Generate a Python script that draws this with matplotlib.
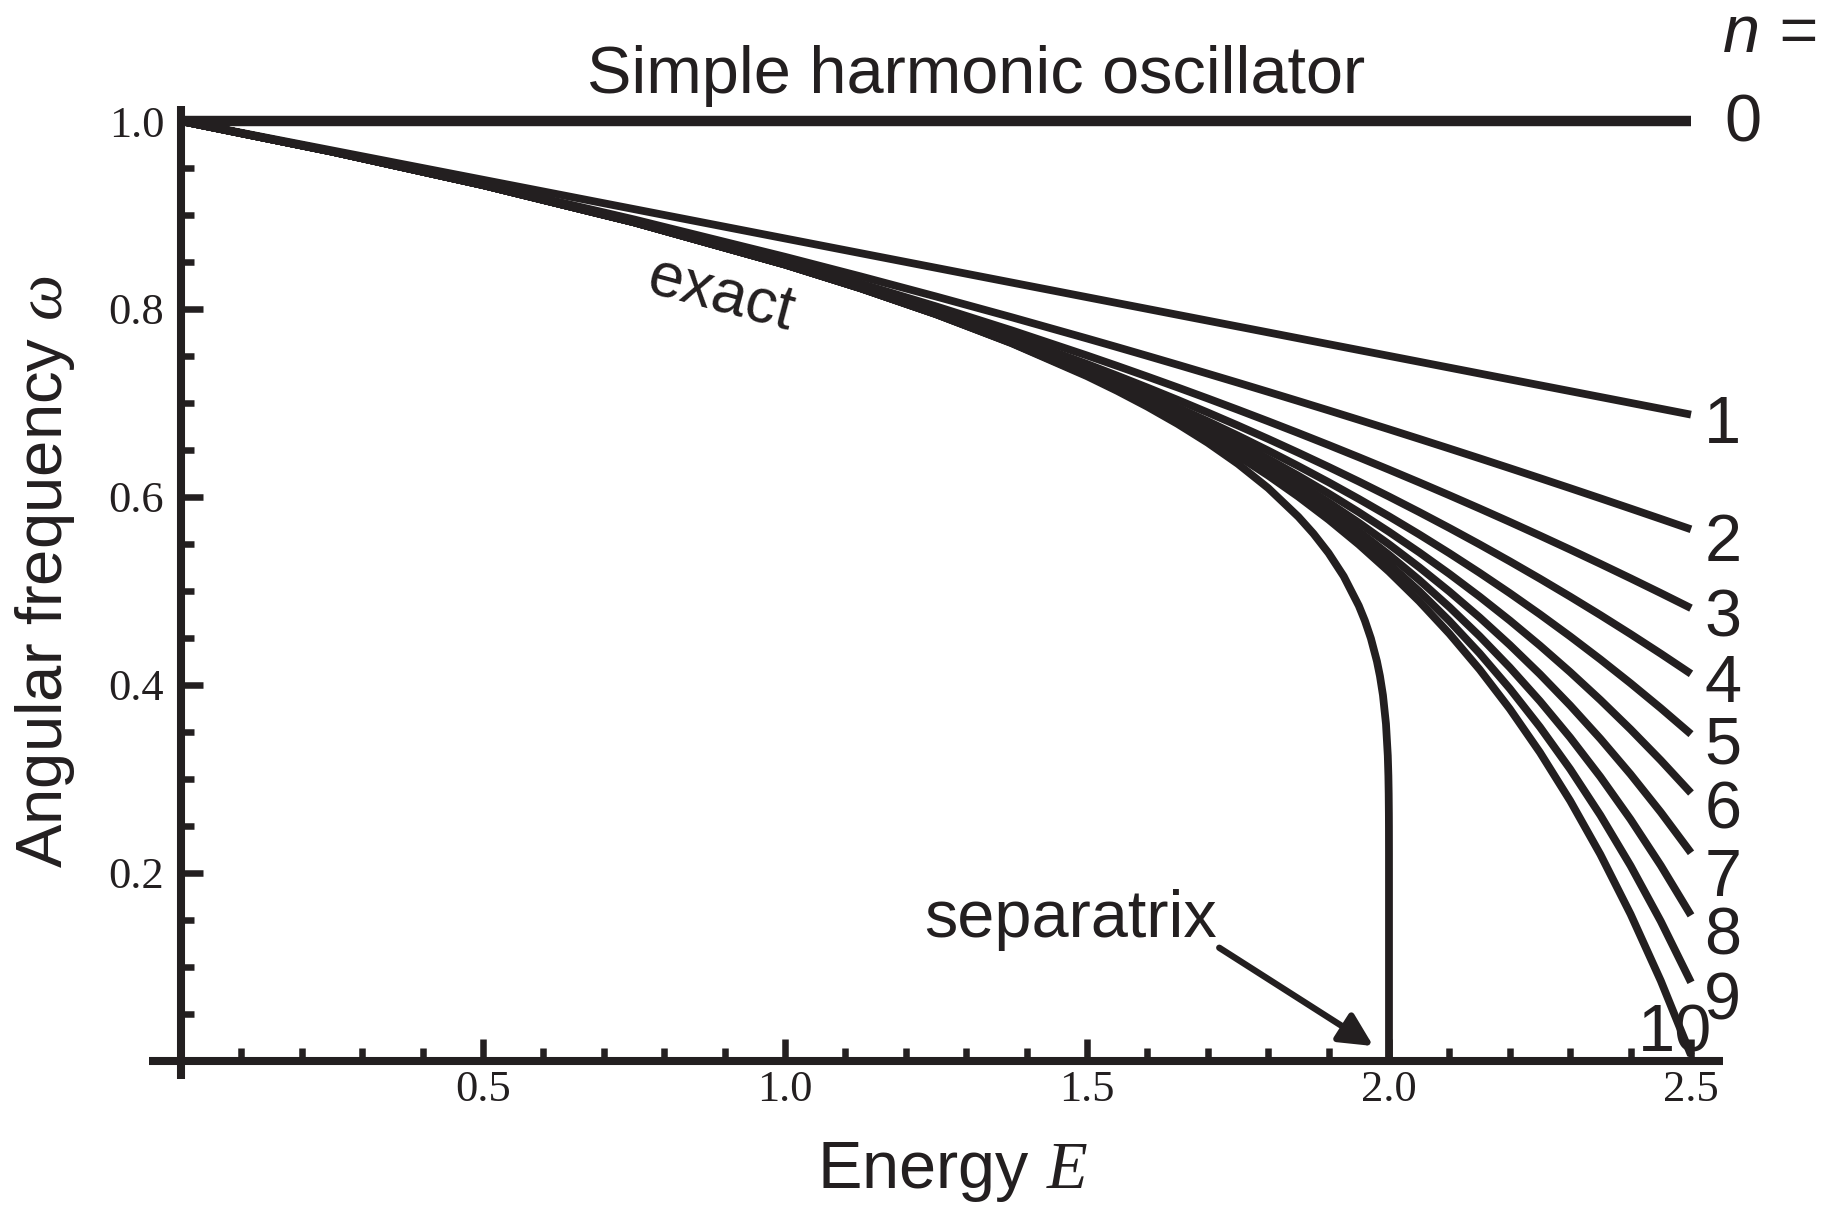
import matplotlib
matplotlib.use('Agg')
import matplotlib.pyplot as plt
from matplotlib.ticker import FixedLocator

plt.rcParams['font.family'] = ['Liberation Sans', 'DejaVu Sans']
plt.rcParams['mathtext.fontset'] = 'custom'
plt.rcParams['mathtext.it'] = 'Liberation Serif:italic'
plt.rcParams['mathtext.rm'] = 'Liberation Serif'

# ---------------- data ----------------
E_exact = [0, 0.25, 0.5, 0.75, 1.0, 1.125, 1.25, 1.375, 1.5, 1.55, 1.6, 1.65,
           1.7, 1.75, 1.8, 1.85, 1.875, 1.9, 1.925, 1.95, 1.96, 1.97, 1.98,
           1.985, 1.99, 1.995, 1.998, 1.999, 1.9995, 1.9998, 1.9999, 1.99998,
           1.999998, 2.0]
omega_exact = [1.0, 0.96744, 0.93181, 0.89221, 0.84721, 0.82198, 0.79432,
               0.76351, 0.72840, 0.71274, 0.69590, 0.67762, 0.65751, 0.63503,
               0.60929, 0.57873, 0.56076, 0.54010, 0.51546, 0.48409, 0.46832,
               0.44937, 0.42504, 0.40927, 0.38888, 0.35829, 0.32454, 0.30282,
               0.28388, 0.26217, 0.24784, 0.21991, 0.18939, 0.0]

E_series = [0, 0.25, 0.5, 0.75, 1.0, 1.125, 1.25, 1.375, 1.5, 1.55, 1.6, 1.65,
            1.7, 1.75, 1.8, 1.85, 1.9, 1.95, 2.0, 2.05, 2.1, 2.15, 2.2, 2.25,
            2.3, 2.35, 2.4, 2.45, 2.5]
omega_n0 = [1.0] * 29
omega_n1 = [1, 0.96875, 0.9375, 0.90625, 0.875, 0.859375, 0.84375, 0.828125,
            0.8125, 0.80625, 0.8, 0.79375, 0.7875, 0.78125, 0.775, 0.76875,
            0.7625, 0.75625, 0.75, 0.74375, 0.7375, 0.73125, 0.725, 0.71875,
            0.7125, 0.70625, 0.7, 0.69375, 0.6875]
omega_n2 = [1, 0.96753, 0.93262, 0.89526, 0.85547, 0.83466, 0.81323, 0.79120,
            0.76855, 0.75933, 0.75, 0.74058, 0.73106, 0.72144, 0.71172,
            0.70190, 0.69199, 0.68198, 0.67188, 0.66167, 0.65137, 0.64097,
            0.63047, 0.61987, 0.60918, 0.59839, 0.5875, 0.57651, 0.56543]
omega_n3 = [1, 0.96745, 0.93195, 0.89300, 0.85010, 0.82701, 0.80274, 0.77724,
            0.75043, 0.73933, 0.72800, 0.71645, 0.70467, 0.69265, 0.68039,
            0.66790, 0.65515, 0.64216, 0.62891, 0.61540, 0.60163, 0.58759,
            0.57328, 0.55869, 0.54383, 0.52868, 0.51325, 0.49753, 0.48151]
omega_n4 = [1, 0.96744, 0.93183, 0.89243, 0.84831, 0.82414, 0.79838, 0.77084,
            0.74137, 0.72900, 0.71628, 0.70319, 0.68972, 0.67587, 0.66161,
            0.64694, 0.63184, 0.61629, 0.60028, 0.58380, 0.56683, 0.54936,
            0.53137, 0.51284, 0.49376, 0.47412, 0.45389, 0.43307, 0.41162]
omega_n5 = [1, 0.96744, 0.93181, 0.89228, 0.84765, 0.82296, 0.79637, 0.76761,
            0.73638, 0.72312, 0.70938, 0.69515, 0.68039, 0.66508, 0.64919,
            0.63269, 0.61556, 0.59775, 0.57924, 0.55999, 0.53998, 0.51915,
            0.49748, 0.47492, 0.45144, 0.42699, 0.40153, 0.37502, 0.34741]
omega_n6 = [1, 0.96744, 0.93181, 0.89223, 0.84739, 0.82244, 0.79539, 0.76588,
            0.73345, 0.71956, 0.70507, 0.68997, 0.67419, 0.65771, 0.64046,
            0.62240, 0.60348, 0.58364, 0.56281, 0.54095, 0.51797, 0.49380,
            0.46838, 0.44163, 0.41345, 0.38377, 0.35249, 0.31952, 0.28475]
omega_n7 = [1, 0.96744, 0.93181, 0.89222, 0.84729, 0.82220, 0.79489, 0.76491,
            0.73167, 0.71731, 0.70227, 0.68649, 0.66991, 0.65246, 0.63407,
            0.61467, 0.59416, 0.57246, 0.54946, 0.52508, 0.49918, 0.47165,
            0.44236, 0.41118, 0.37793, 0.34248, 0.30465, 0.26425, 0.22109]
omega_n8 = [1, 0.96744, 0.93181, 0.89221, 0.84725, 0.82209, 0.79463, 0.76435,
            0.73055, 0.71586, 0.70040, 0.68410, 0.66687, 0.64862, 0.62926,
            0.60868, 0.58675, 0.56333, 0.53829, 0.51146, 0.48267, 0.45172,
            0.41841, 0.38250, 0.34375, 0.30188, 0.25660, 0.20758, 0.15448]
omega_n9 = [1, 0.96744, 0.93181, 0.89221, 0.84723, 0.82203, 0.79449, 0.76402,
            0.72983, 0.71490, 0.69912, 0.68240, 0.66465, 0.64575, 0.62556,
            0.60394, 0.58072, 0.55572, 0.52873, 0.49952, 0.46784, 0.43339,
            0.39587, 0.35490, 0.31011, 0.26107, 0.20727, 0.14819, 0.08324]
omega_n10 = [1, 0.96744, 0.93181, 0.89221, 0.84722, 0.82201, 0.79442, 0.76382,
             0.72936, 0.71425, 0.69822, 0.68119, 0.66302, 0.64356, 0.62266,
             0.60012, 0.57574, 0.54926, 0.52041, 0.48887, 0.45428, 0.41624,
             0.37428, 0.32788, 0.27645, 0.21932, 0.15574, 0.08486, 0.00574]
series_orders = ['0', '1', '2', '3', '4', '5', '6', '7', '8', '9', '10']

x_major = [0.5, 1.0, 1.5, 2.0, 2.5]
x_major_labels = ['0.5', '1.0', '1.5', '2.0', '2.5']
y_major = [0.2, 0.4, 0.6, 0.8, 1.0]
y_major_labels = ['0.2', '0.4', '0.6', '0.8', '1.0']

# ---------------- layout / style ----------------
ink = '#231f20'
W, H = 1823, 1205
fig = plt.figure(figsize=(W / 100, H / 100), dpi=100)
ax = fig.add_axes([149 / W, 1 - 1079.3 / H, 1574 / W, 973.3 / H])
ax.set_xlim(-0.053, 2.553)
ax.set_ylim(-0.02, 1.016)

for s in ['top', 'right']:
    ax.spines[s].set_visible(False)
for s in ['left', 'bottom']:
    ax.spines[s].set_position(('data', 0))
    ax.spines[s].set_linewidth(5.8)
    ax.spines[s].set_color(ink)
    ax.spines[s].set_capstyle('butt')

ax.xaxis.set_major_locator(FixedLocator(x_major))
ax.xaxis.set_minor_locator(FixedLocator([0.1 * i for i in range(1, 25) if i % 5]))
ax.yaxis.set_major_locator(FixedLocator(y_major))
ax.yaxis.set_minor_locator(FixedLocator([0.05 * i for i in range(1, 20) if i % 4]))
ax.set_xticklabels(x_major_labels)
ax.set_yticklabels(y_major_labels)
ax.tick_params(which='both', direction='in', color=ink, width=4.7)
ax.tick_params(which='major', length=15.5)
ax.tick_params(which='minor', length=9.5)
ax.tick_params(axis='x', which='major', pad=7, labelsize=32, labelcolor=ink)
ax.tick_params(axis='y', which='major', pad=12, labelsize=32, labelcolor=ink)
for lbl in ax.get_xticklabels() + ax.get_yticklabels():
    lbl.set_fontfamily('Liberation Serif')

# curves
series = [omega_n0, omega_n1, omega_n2, omega_n3, omega_n4, omega_n5,
          omega_n6, omega_n7, omega_n8, omega_n9, omega_n10]
for i, om in enumerate(series):
    ax.plot(E_series, om, color=ink, lw=7.5 if i == 0 else 5.6,
            solid_capstyle='butt', solid_joinstyle='round', clip_on=False)
ax.plot(E_exact, omega_exact, color=ink, lw=5.6, solid_capstyle='butt',
        solid_joinstyle='round', clip_on=False)

# order labels at right
label_pos = [(2.556, 0.9777), (2.522, 0.6573), (2.522, 0.5319),
             (2.522, 0.4516), (2.522, 0.3821), (2.522, 0.3161),
             (2.522, 0.2473), (2.522, 0.1749), (2.522, 0.1131),
             (2.522, 0.0439), (2.412, 0.0099)]
for txt, (lx, ly) in zip(series_orders, label_pos):
    ax.text(lx, ly, txt, fontsize=48, color=ink, ha='left', va='baseline',
            clip_on=False)

fig.text(1723 / W, 1 - 52 / H, 'n =', fontsize=48, fontstyle='italic',
         color=ink, ha='left', va='baseline')

# annotations
ax.text(0.894, 0.8144, 'exact', fontsize=45, color=ink, rotation=-15,
        rotation_mode='anchor', ha='center', va='center')
ax.text(1.4735, 0.1315, 'separatrix', fontsize=48, color=ink, ha='center',
        va='baseline')
ax.annotate('', xy=(1.974, 0.0154), xytext=(1.719, 0.120),
            arrowprops=dict(arrowstyle='-|>,head_length=0.5,head_width=0.25',
                            mutation_scale=40, lw=4.6, color=ink,
                            shrinkA=0, shrinkB=0))

# titles / axis labels
fig.text(976.5 / W, 1 - 93 / H, 'Simple harmonic oscillator', fontsize=48,
         color=ink, ha='center', va='baseline')
fig.text(953 / W, 1 - 1188.5 / H, 'Energy $E$', fontsize=48, color=ink,
         ha='center', va='baseline')
fig.text(62 / W, 1 - 572 / H, r'Angular frequency $\omega$', fontsize=47,
         color=ink, rotation=90, rotation_mode='anchor', ha='center',
         va='baseline')

fig.savefig('out.png', dpi=100)
